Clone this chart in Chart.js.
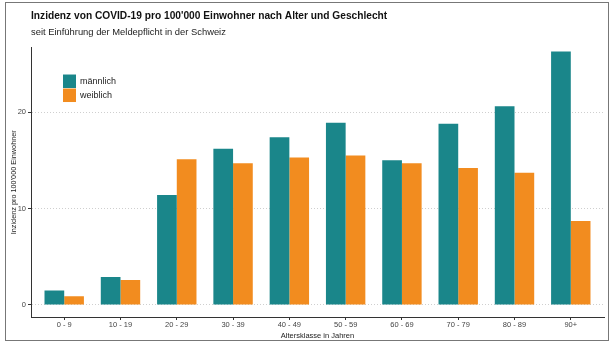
<!DOCTYPE html>
<html>
<head>
<meta charset="utf-8">
<script src="https://cdn.jsdelivr.net/npm/chart.js@4"></script>
<style>
  html, body { margin: 0; padding: 0; background: #fff; }
  #wrap { width: 612px; height: 345px; }
</style>
</head>
<body>
<div id="wrap"><canvas id="chart" width="612" height="345"></canvas></div>
<script>
const ageGroups = ['0 - 9', '10 - 19', '20 - 29', '30 - 39', '40 - 49', '50 - 59', '60 - 69', '70 - 79', '80 - 89', '90+'];
const maleValues = [1.5, 2.9, 11.4, 16.2, 17.4, 18.9, 15.0, 18.8, 20.6, 26.3];
const femaleValues = [0.9, 2.6, 15.1, 14.7, 15.3, 15.5, 14.7, 14.2, 13.7, 8.7];
const yTicks = [0, 10, 20];

const TEAL = '#1a868a';
const ORANGE = '#f28c1f';
const FONT = "'Liberation Sans', Arial, sans-serif";

// frame round the whole figure
const framePlugin = {
  id: 'frame',
  beforeDraw(chart) {
    const ctx = chart.ctx;
    ctx.save();
    ctx.fillStyle = '#fff';
    ctx.fillRect(0, 0, chart.width, chart.height);
    ctx.strokeStyle = '#777';
    ctx.lineWidth = 1;
    ctx.strokeRect(5.5, 2.5, 603, 338);
    ctx.restore();
  }
};

// legend sits inside the panel, top left
const insideLegend = {
  id: 'insideLegend',
  afterDatasetsDraw(chart) {
    const ctx = chart.ctx;
    const x = chart.chartArea.left + 32;
    let y = chart.chartArea.top + 27;
    ctx.save();
    ctx.font = '9px ' + FONT;
    ctx.textBaseline = 'middle';
    chart.data.datasets.forEach(ds => {
      ctx.fillStyle = ds.backgroundColor;
      ctx.fillRect(x, y, 13, 13.5);
      ctx.fillStyle = '#222';
      ctx.fillText(ds.label, x + 17, y + 7);
      y += 14;
    });
    ctx.restore();
  }
};

new Chart(document.getElementById('chart'), {
  type: 'bar',
  data: {
    datasets: [
      { label: 'männlich', data: maleValues.map((v, i) => ({ x: i, y: v })), backgroundColor: TEAL, categoryPercentage: 0.7, barPercentage: 1 },
      { label: 'weiblich', data: femaleValues.map((v, i) => ({ x: i, y: v })), backgroundColor: ORANGE, categoryPercentage: 0.7, barPercentage: 1 }
    ]
  },
  options: {
    responsive: false,
    animation: false,
    layout: { padding: { top: 8, left: 6, right: 8, bottom: 0 } },
    plugins: {
      legend: { display: false },
      tooltip: { enabled: false },
      title: {
        display: true,
        text: "Inzidenz von COVID-19 pro 100'000 Einwohner nach Alter und Geschlecht",
        align: 'start',
        fullSize: false,
        color: '#111',
        font: { family: FONT, size: 10.2, weight: 'bold' },
        padding: { top: 2, bottom: 0 }
      },
      subtitle: {
        display: true,
        text: 'seit Einführung der Meldepflicht in der Schweiz',
        align: 'start',
        fullSize: false,
        color: '#222',
        font: { family: FONT, size: 9.4 },
        padding: { top: 5, bottom: 9 }
      }
    },
    scales: {
      x: {
        type: 'linear',
        offset: false,
        min: -0.59,
        max: 9.59,
        afterBuildTicks: s => { s.ticks = ageGroups.map((_, i) => ({ value: i })); },
        afterFit: s => { s.height = 28; },
        ticks: {
          callback: v => ageGroups[v],
          font: { family: FONT, size: 7.5 },
          color: '#444',
          padding: 0,
          maxRotation: 0
        },
        grid: { offset: false, drawOnChartArea: false, tickLength: 3, tickColor: '#333' },
        border: { color: '#333', width: 1 },
        title: {
          display: true,
          text: 'Altersklasse in Jahren',
          font: { family: FONT, size: 7.5 },
          color: '#222',
          padding: { top: 0, bottom: 5 }
        }
      },
      y: {
        min: -1.25,
        max: 26.7,
        afterBuildTicks: s => { s.ticks = yTicks.map(v => ({ value: v })); },
        afterFit: s => { s.width = 25; },
        ticks: {
          font: { family: FONT, size: 7.5 },
          color: '#444',
          padding: 2
        },
        grid: { color: '#cfcfcf', lineWidth: 1, tickLength: 3, tickColor: '#333' },
        border: { color: '#333', width: 1, dash: [1, 2] },
        title: {
          display: true,
          text: "Inzidenz pro 100'000 Einwohner",
          font: { family: FONT, size: 7.3 },
          color: '#222',
          padding: { top: 4, bottom: 0 }
        }
      }
    }
  },
  plugins: [framePlugin, insideLegend]
});
</script>
</body>
</html>
